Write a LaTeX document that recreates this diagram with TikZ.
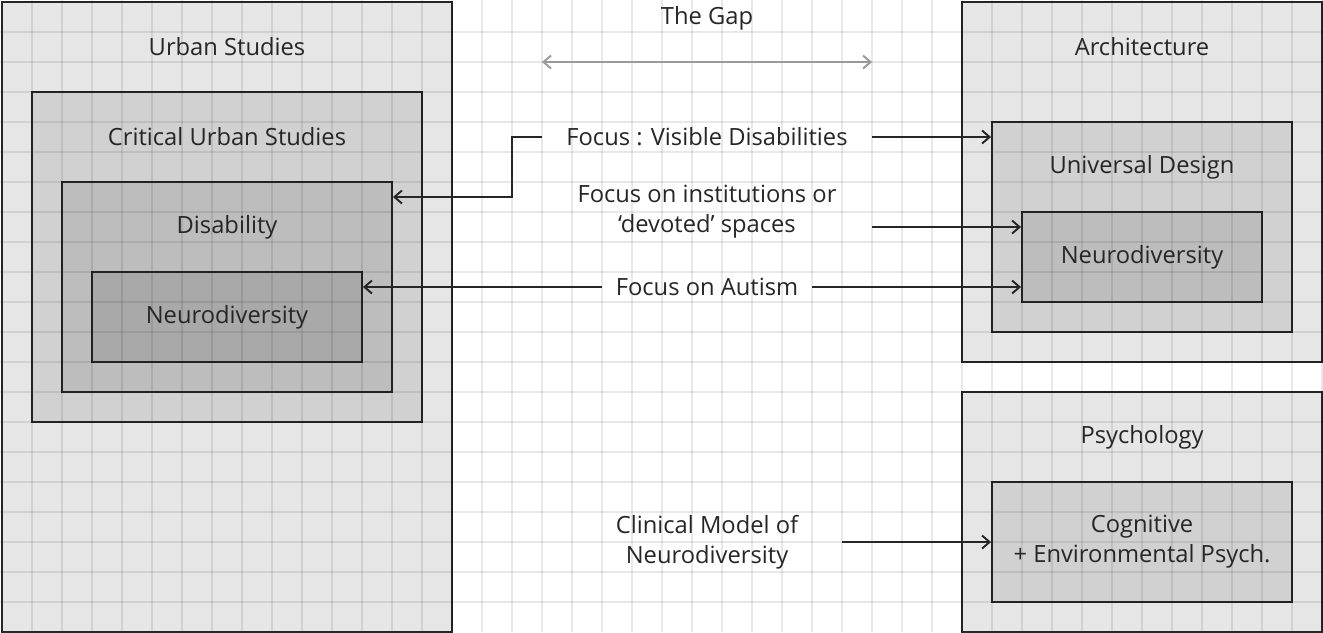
\documentclass[tikz,border=0pt]{standalone}
\usepackage{fontspec}
\setmainfont{Open Sans}
\usetikzlibrary{arrows.meta,fit}

\begin{document}
\begin{tikzpicture}[x=0.6cm, y=-0.6cm,
    >={Straight Barb[length=1.5mm,width=2.6mm]},
    box/.style={draw=black!85, line width=1.1pt, inner sep=0pt},
    gridline/.style={black, opacity=0.09, line width=1.1pt},
    txt/.style={text=black!85, font=\fontsize{13.5}{17}\selectfont, align=center},
    link/.style={->, line width=1.1pt, draw=black!85}]
			\definecolor{shadeA}{HTML}{E6E6E6}
			\definecolor{shadeB}{HTML}{D1D1D1}
			\definecolor{shadeC}{HTML}{BDBDBD}
			\definecolor{shadeD}{HTML}{A9A9A9}

				\useasboundingbox (-0.067,-0.067) rectangle (44.033,21.0);

				% left column: nested fields
				\node[box, fill=shadeA, fit={(0,0) (15,21)}] (urban) {};
				\node[box, fill=shadeB, fit={(1,3) (14,14)}] (critical) {};
				\node[box, fill=shadeC, fit={(2,6) (13,13)}] (disab) {};
				\node[box, fill=shadeD, fit={(3,9) (12,12)}] (neuroL) {};

				% right column
				\node[box, fill=shadeA, fit={(32,0) (44,12)}] (archi) {};
				\node[box, fill=shadeB, fit={(33,4) (43,11)}] (univ) {};
				\node[box, fill=shadeC, fit={(34,7) (42,10)}] (neuroR) {};
				\node[box, fill=shadeA, fit={(32,13) (44,21)}] (psych) {};
				\node[box, fill=shadeB, fit={(33,16) (43,20)}] (cogn) {};

				% squared paper over everything
				\foreach \x in {1,...,44}{
						\draw[gridline] (\x,-0.067) -- (\x,21);
					}
				\foreach \y in {1,...,20}{
						\draw[gridline] (-0.067,\y) -- (44.033,\y);
					}

				\node[txt] (urbanT) at (7.5,1.5) {Urban Studies};
				\node[txt] (criticalT) at (7.5,4.5) {Critical Urban Studies};
				\node[txt] (disabT) at (7.5,7.5) {Disability};
				\node[txt] (neuroLT) at (neuroL.center) {Neurodiversity};

				\node[txt] (archiT) at (38,1.5) {Architecture};
				\node[txt] (univT) at (38,5.5) {Universal Design};
				\node[txt] (neuroRT) at (neuroR.center) {Neurodiversity};
				\node[txt] (psychT) at (38,14.5) {Psychology};
				\node[txt] (cognT) at (cogn.center) {Cognitive\\+ Environmental Psych.};

				\node[txt] (gapT) at (23.5,0.55) {The Gap};
				\node[txt] (vis) at (23.5,4.5) {Focus : Visible Disabilities};
				\node[txt] (inst) at (23.5,7) {Focus on institutions or\\‘devoted’ spaces};
				\node[txt] (aut) at (23.5,9.5) {Focus on Autism};
				\node[txt] (clin) at (23.5,18) {Clinical Model of\\Neurodiversity};

				\coordinate (gapL) at (18,2);
				\coordinate (gapR) at (29,2);
				\coordinate (visL) at (18,4.5);
				\coordinate (visK) at (17,6.5);
				\coordinate (visR) at (29,4.5);
				\coordinate (instR) at (29,7.5);
				\coordinate (autL) at (20,9.5);
				\coordinate (autR) at (27,9.5);
				\coordinate (clinR) at (28,18);

				\draw[<->, line width=1.1pt, draw=black!40] (gapL)--(gapR);
				\draw[link] (visL) -| (visK) -- (visK -| disab.east);
				\draw[link] (visR) -- (visR -| univ.west);
				\draw[link] (instR) -- (instR -| neuroR.west);
				\draw[link] (autL) -- (autL -| neuroL.east);
				\draw[link] (autR) -- (autR -| neuroR.west);
				\draw[link] (clinR) -- (clinR -| cogn.west);
		\end{tikzpicture}
\end{document}
